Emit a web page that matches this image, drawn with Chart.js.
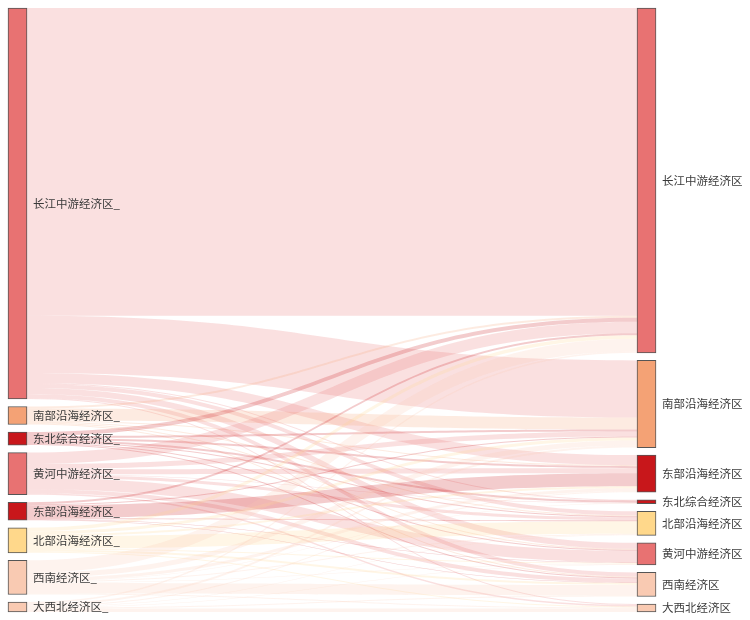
<!DOCTYPE html>
<html>
<head>
<meta charset="utf-8">
<script src="https://cdn.jsdelivr.net/npm/chart.js@4.4.1/dist/chart.umd.min.js"></script>
<style>
  html, body { margin: 0; padding: 0; background: #fff; }
  #contenedor { width: 750px; height: 620px; }
</style>
</head>
<body>
<div id="contenedor"><canvas id="graficoSankey"></canvas></div>
<script>
// Columna izquierda (origen) y derecha (destino)
const origenes = ['长江中游经济区_', '南部沿海经济区_', '东北综合经济区_', '黄河中游经济区_', '东部沿海经济区_', '北部沿海经济区_', '西南经济区_', '大西北经济区_'];
const destinos = ['长江中游经济区', '南部沿海经济区', '东部沿海经济区', '东北综合经济区', '北部沿海经济区', '黄河中游经济区', '西南经济区', '大西北经济区'];

// Flujos de cada origen, en el orden de "destinos"
const desdeChangjiang = [307, 57, 10, 1, 4, 6, 4, 1];
const desdeNanbu      = [2, 12, 1, 0, 1, 1, 1, 0];
const desdeDongbei    = [4, 2, 2, 2, 1, 1, 1, 0];
const desdeHuanghe    = [11.5, 5, 5, 0.5, 3, 11.5, 4, 1.5];
const desdeDongbu     = [2, 1, 13, 0, 1, 0.5, 0.5, 0];
const desdeBeibu      = [3.5, 3, 2, 0, 12.5, 1, 2, 1];
const desdeXinan      = [12.5, 5, 3, 0.5, 1, 0.5, 10.5, 1];
const desdeDaxibei    = [1.5, 2, 1, 0, 0.5, 0.5, 1, 3.5];

const flujos = [desdeChangjiang, desdeNanbu, desdeDongbei, desdeHuanghe, desdeDongbu, desdeBeibu, desdeXinan, desdeDaxibei];

// Colores
const coloresOrigen = ['#e87272', '#f4a275', '#c8171b', '#e87272', '#c8171b', '#ffd88b', '#f9cab2', '#f9cab2'];
const coloresDestino = ['#e87272', '#f4a275', '#c8171b', '#c8171b', '#ffd88b', '#e87272', '#f9cab2', '#f9cab2'];

const HUECO = 7.5;

const totalOrigen = flujos.map(f => f.reduce((a, b) => a + b, 0));
const totalDestino = destinos.map((_, j) => flujos.reduce((s, f) => s + f[j], 0));

function apilar(totales) {
    let y = 0;
    return totales.map(v => {
        const r = [y, y + v];
        y += v + HUECO;
        return r;
    });
}
const rangosOrigen = apilar(totalOrigen);
const rangosDestino = apilar(totalDestino);
const alto = Math.max(rangosOrigen[rangosOrigen.length - 1][1], rangosDestino[rangosDestino.length - 1][1]);

// Enlaces con su posicion dentro de cada nodo
const enlaces = [];
const salida = rangosOrigen.map(r => r[0]);
const entrada = rangosDestino.map(r => r[0]);
flujos.forEach((fila, i) => {
    fila.forEach((v, j) => {
        if (v <= 0) return;
        enlaces.push({ i: i, v: v, sy: salida[i], ty: entrada[j] });
        salida[i] += v;
        entrada[j] += v;
    });
});

function rgba(hex, a) {
    const n = parseInt(hex.slice(1), 16);
    return 'rgba(' + (n >> 16) + ',' + ((n >> 8) & 255) + ',' + (n & 255) + ',' + a + ')';
}

const nodos = rangosOrigen.map(r => ({ x: 0, y: r })).concat(rangosDestino.map(r => ({ x: 1, y: r })));
const etiquetas = origenes.concat(destinos);

const flujosPlugin = {
    id: 'flujos',
    beforeDatasetsDraw(chart) {
        const ctx = chart.ctx;
        const ys = chart.scales.y;
        const barras = chart.getDatasetMeta(0).data;
        const x0 = barras[0].x + barras[0].width / 2;
        const x1 = barras[origenes.length].x - barras[origenes.length].width / 2;
        const xm = (x0 + x1) / 2;
        ctx.save();
        enlaces.forEach(e => {
            const a = ys.getPixelForValue(e.sy), b = ys.getPixelForValue(e.sy + e.v);
            const c = ys.getPixelForValue(e.ty), d = ys.getPixelForValue(e.ty + e.v);
            ctx.beginPath();
            ctx.moveTo(x0, a);
            ctx.bezierCurveTo(xm, a, xm, c, x1, c);
            ctx.lineTo(x1, d);
            ctx.bezierCurveTo(xm, d, xm, b, x0, b);
            ctx.closePath();
            ctx.fillStyle = rgba(coloresOrigen[e.i], 0.22);
            ctx.fill();
        });
        ctx.restore();
    },
    afterDatasetsDraw(chart) {
        const ctx = chart.ctx;
        const barras = chart.getDatasetMeta(0).data;
        ctx.save();
        ctx.font = '11.5px "Noto Sans CJK SC", sans-serif';
        ctx.fillStyle = '#3a3a3a';
        ctx.textBaseline = 'middle';
        ctx.textAlign = 'left';
        barras.forEach((b, k) => {
            const yMid = (b.y + b.base) / 2;
            ctx.fillText(etiquetas[k], b.x + b.width / 2 + 6, yMid);
        });
        ctx.restore();
    }
};

const ctx = document.getElementById('graficoSankey').getContext('2d');
new Chart(ctx, {
    type: 'bar',
    data: {
        datasets: [{
            data: nodos,
            backgroundColor: coloresOrigen.concat(coloresDestino),
            borderColor: '#555',
            borderWidth: 1,
            borderSkipped: false,
            barThickness: 19,
            clip: false
        }]
    },
    options: {
        responsive: true,
        maintainAspectRatio: false,
        animation: false,
        layout: { padding: { left: 17.5, right: 103.5, top: 8, bottom: 8 } },
        scales: {
            x: { type: 'linear', min: 0, max: 1, offset: false, display: false },
            y: { type: 'linear', min: 0, max: alto, reverse: true, display: false }
        },
        plugins: {
            legend: { display: false },
            tooltip: { enabled: false }
        }
    },
    plugins: [flujosPlugin]
});
</script>
</body>
</html>
